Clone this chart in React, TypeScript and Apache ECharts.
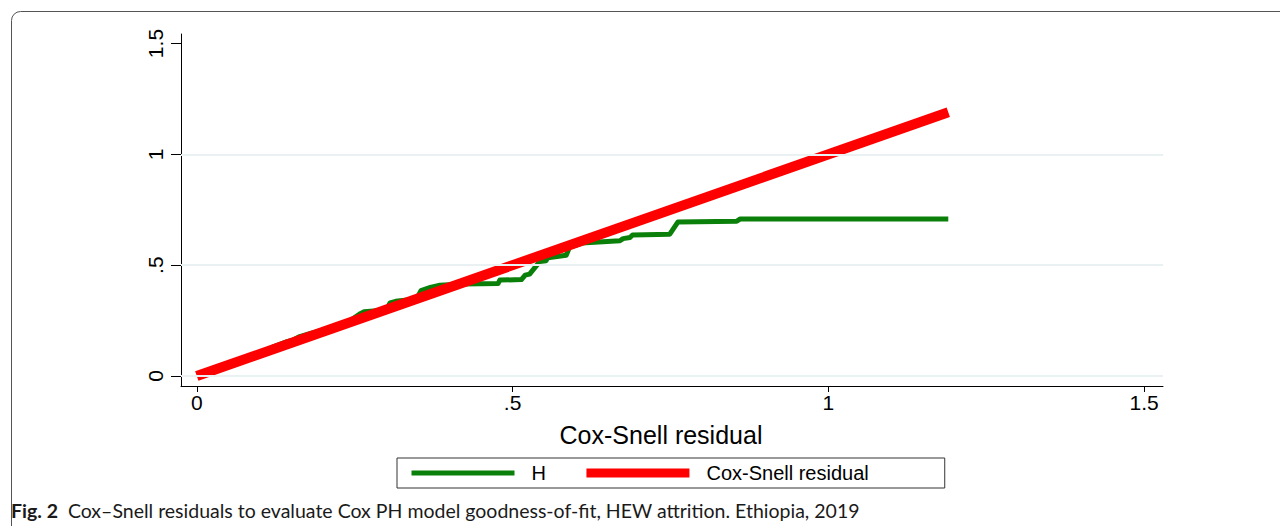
import React, { useEffect, useRef } from "react";
import * as echarts from "echarts";

// Green step curve: Nelson–Aalen cumulative hazard H of the Cox–Snell residuals
const greenX = [0.003, 0.02, 0.05, 0.08, 0.1, 0.12, 0.143, 0.152, 0.163, 0.18, 0.195, 0.211, 0.24, 0.258, 0.265, 0.3, 0.306, 0.315, 0.348, 0.355, 0.37, 0.385, 0.42, 0.477, 0.48, 0.514, 0.52, 0.527, 0.543, 0.553, 0.556, 0.585, 0.59, 0.595, 0.61, 0.67, 0.675, 0.686, 0.69, 0.749, 0.762, 0.855, 0.86, 1.19];
const greenH = [0.0, 0.025, 0.055, 0.085, 0.105, 0.13, 0.155, 0.162, 0.178, 0.192, 0.203, 0.21, 0.245, 0.28, 0.29, 0.298, 0.33, 0.337, 0.348, 0.385, 0.4, 0.41, 0.415, 0.417, 0.433, 0.435, 0.455, 0.46, 0.516, 0.52, 0.534, 0.545, 0.58, 0.585, 0.6, 0.61, 0.62, 0.625, 0.636, 0.64, 0.695, 0.698, 0.708, 0.708];
// Reference 45° line: Cox–Snell residual against itself
const redX = [0, 1.19];
const redY = [0, 1.19];
const tickValues = [0, 0.5, 1, 1.5];
const gridValues = [0, 0.5, 1];
const fmt = (v: number) => (v === 0.5 ? ".5" : String(v));

const FONT = "'Liberation Sans', Arial, sans-serif";
const GREEN = "#0a800a";
const RED = "#ff0000";

export default function App() {
  const ref = useRef<HTMLDivElement>(null);
  useEffect(() => {
    if (!ref.current) return;
    const chart = echarts.init(ref.current, undefined, { renderer: "svg" });
    chart.setOption({
      animation: false,
      backgroundColor: "#ffffff",
      grid: { left: 181, right: 117, top: 34, bottom: 140, containLabel: false },
      xAxis: {
        type: "value",
        min: -0.025,
        max: 1.53,
        name: "Cox-Snell residual",
        nameLocation: "middle",
        nameGap: 36,
        nameTextStyle: { fontFamily: FONT, fontSize: 25, color: "#000", padding: [0, 22, 0, 0] },
        axisLine: { show: true, onZero: false, lineStyle: { color: "#000", width: 1 } },
        axisTick: { show: true, length: 6, customValues: tickValues, lineStyle: { color: "#000" } },
        axisLabel: {
          customValues: tickValues,
          formatter: fmt,
          fontFamily: FONT,
          fontSize: 21,
          color: "#000",
          margin: 6,
        },
        splitLine: { show: false },
      },
      yAxis: {
        type: "value",
        min: -0.045,
        max: 1.543,
        axisLine: { show: true, onZero: false, lineStyle: { color: "#000", width: 1 } },
        axisTick: { show: true, length: 10, customValues: tickValues, lineStyle: { color: "#000" } },
        axisLabel: {
          customValues: tickValues,
          formatter: fmt,
          rotate: 90,
          fontFamily: FONT,
          fontSize: 21,
          color: "#000",
          margin: 15,
        },
        splitLine: { show: false },
      },
      legend: {
        data: [
          { name: "H", lineStyle: { width: 5, color: GREEN }, itemStyle: { opacity: 0 } },
          { name: "Cox-Snell residual", lineStyle: { width: 9, color: RED }, itemStyle: { opacity: 0 } },
        ],
        left: 397,
        top: 458,
        orient: "horizontal",
        borderColor: "#333",
        borderWidth: 1,
        padding: [5, 76, 5, 12],
        itemWidth: 103,
        itemHeight: 18,
        itemGap: 36,
        textStyle: { fontFamily: FONT, fontSize: 20, color: "#000", padding: [0, 0, 0, 12] },
      },
      series: [
        {
          name: "grid",
          type: "line",
          data: [],
          silent: true,
          markLine: {
            silent: true,
            symbol: "none",
            label: { show: false },
            lineStyle: { color: "#e9f1f3", width: 2, type: "solid" },
            data: gridValues.map((v) => ({ yAxis: v })),
          },
        },
        {
          name: "H",
          type: "line",
          symbol: "none",
          data: greenX.map((x, i) => [x, greenH[i]]),
          lineStyle: { color: GREEN, width: 5, join: "round" },
          itemStyle: { color: GREEN },
        },
        {
          name: "Cox-Snell residual",
          type: "line",
          symbol: "none",
          data: redX.map((x, i) => [x, redY[i]]),
          lineStyle: { color: RED, width: 10, cap: "butt" },
          itemStyle: { color: RED },
        },
      ],
      graphic: [
        {
          type: "rect",
          silent: true,
          shape: { x: 11.5, y: 11.5, width: 1400, height: 700, r: 9 },
          style: { fill: "none", stroke: "#555", lineWidth: 1 },
        },
        {
          type: "text",
          left: 11,
          top: 500,
          style: {
            text: "{b|Fig. 2}  Cox–Snell residuals to evaluate Cox PH model goodness-of-fit, HEW attrition. Ethiopia, 2019",
            fontFamily: "Lato, 'Open Sans', sans-serif",
            fontSize: 19.5,
            fill: "#1a1a1a",
            rich: {
              b: { fontFamily: "Lato, 'Open Sans', sans-serif", fontSize: 19.5, fontWeight: "bold", fill: "#1a1a1a" },
            },
          },
        },
      ],
    });
    return () => chart.dispose();
  }, []);
  return (
    <div
      ref={ref}
      style={{ position: "fixed", left: 0, top: 0, width: 1280, height: 526, background: "#fff" }}
    />
  );
}
